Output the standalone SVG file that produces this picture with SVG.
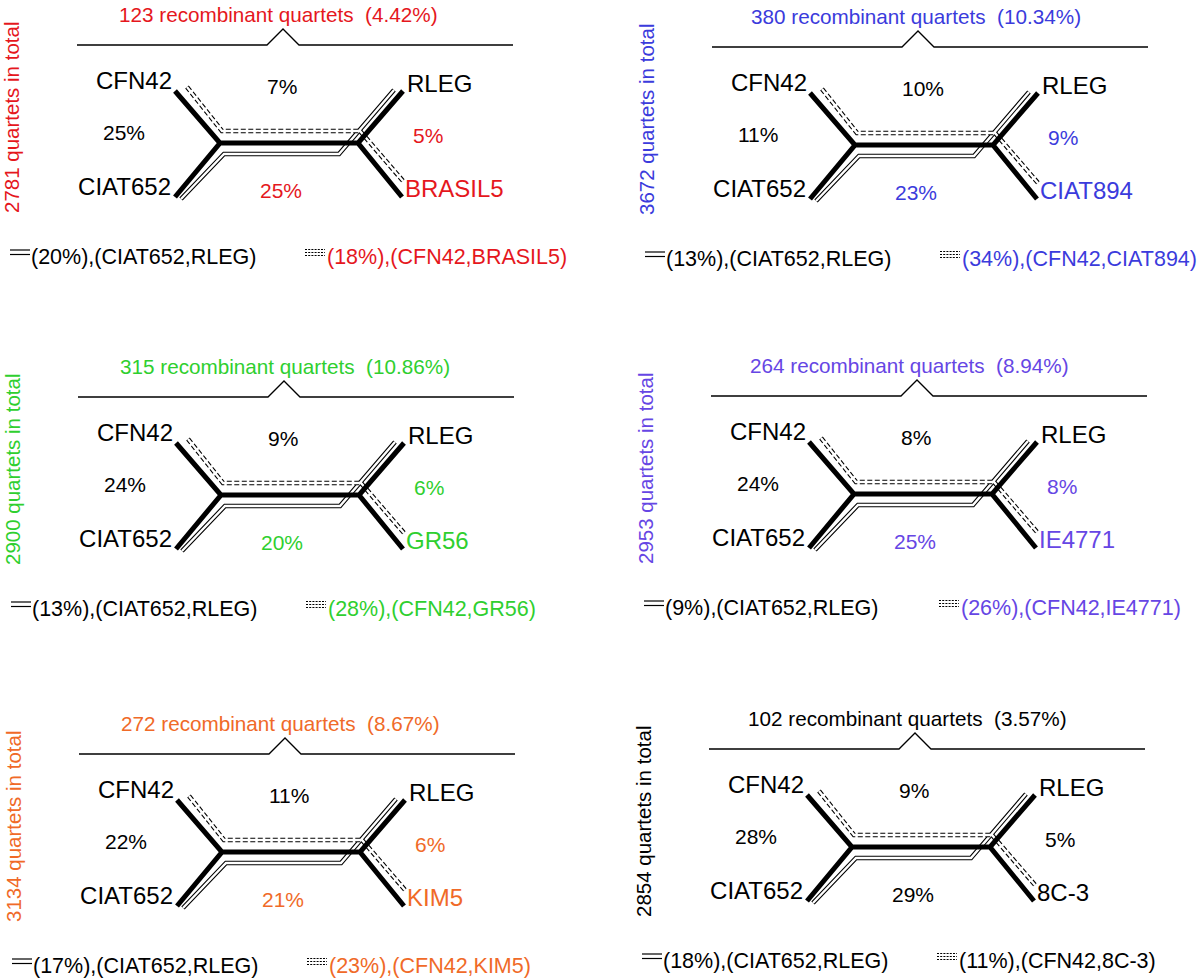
<svg xmlns="http://www.w3.org/2000/svg" xmlns:xlink="http://www.w3.org/1999/xlink" width="1200" height="979" viewBox="0 0 1200 979">
<style>
text{font-family:"Liberation Sans",Arial,sans-serif;fill:#000}
.tax{font-size:24px}
.pct{font-size:21px}
.ttl{font-size:20.7px;white-space:pre}
.vt{font-size:20.5px}
.lg{font-size:21.5px}
.thick{stroke:#000;stroke-width:5;fill:none}
.dbo{stroke:#000;stroke-width:4.6;fill:none}
.dbi{stroke:#fff;stroke-width:2.4;fill:none}
.dsh{stroke:#000;stroke-width:4.6;fill:none;stroke-dasharray:5 2.5}
.br{stroke:#000;stroke-width:1.3;fill:none}
.sym{stroke:#000;stroke-width:1.2;fill:none}
.symd{stroke:#000;stroke-width:1.1;fill:none;stroke-dasharray:2 1.2}
.red{fill:#e5171d}
.blue{fill:#3b3bdc}
.green{fill:#2fcf2f}
.purple{fill:#6646e4}
.orange{fill:#f06a28}
</style>
<defs>
<g id="tree">
<polyline class="br" points="77,45 267,45 283,29 299,45 513,45"/>
<path class="dbo" d="M181,199 L224,154 L339,154 L394,90"/>
<path class="dbi" d="M181,199 L224,154 L339,154 L394,90"/>
<path class="dsh" d="M187,87 L222,131 L360,131 L403,181"/>
<path class="dbi" d="M187,87 L222,131 L360,131 L403,181"/>
<path class="thick" d="M175,91 L220,143 L175,197 M220,143 L358,143 M403,91 L358,143 L402,197"/>
<line class="sym" x1="10" y1="250" x2="30" y2="250"/>
<line class="sym" x1="10" y1="254.5" x2="30" y2="254.5"/>
<line class="symd" x1="305" y1="249.5" x2="325" y2="249.5"/>
<line class="symd" x1="305" y1="252.5" x2="325" y2="252.5"/>
<line class="symd" x1="305" y1="255.5" x2="325" y2="255.5"/>
</g>
</defs>

<g id="panel1">
<use xlink:href="#tree"/>
<text class="ttl red" x="119" y="22" xml:space="preserve">123 recombinant quartets  (4.42%)</text>
<text class="vt red" transform="translate(19,213) rotate(-90)">2781 quartets in total</text>
<text class="tax" x="172" y="89" text-anchor="end">CFN42</text>
<text class="tax" x="171" y="195" text-anchor="end">CIAT652</text>
<text class="tax" x="407" y="92">RLEG</text>
<text class="tax red" x="405" y="197">BRASIL5</text>
<text class="pct" x="267" y="94">7%</text>
<text class="pct" x="103" y="140">25%</text>
<text class="pct red" x="413" y="143">5%</text>
<text class="pct red" x="260" y="198">25%</text>
<text class="lg" x="31" y="264">(20%),(CIAT652,RLEG)</text>
<text class="lg red" x="327" y="264">(18%),(CFN42,BRASIL5)</text>
</g>

<g id="panel2" transform="translate(635,2)">
<use xlink:href="#tree"/>
<text class="ttl blue" x="116" y="22" xml:space="preserve">380 recombinant quartets  (10.34%)</text>
<text class="vt blue" transform="translate(19,213) rotate(-90)">3672 quartets in total</text>
<text class="tax" x="172" y="89" text-anchor="end">CFN42</text>
<text class="tax" x="171" y="195" text-anchor="end">CIAT652</text>
<text class="tax" x="407" y="92">RLEG</text>
<text class="tax blue" x="405" y="197">CIAT894</text>
<text class="pct" x="267" y="94">10%</text>
<text class="pct" x="103" y="140">11%</text>
<text class="pct blue" x="413" y="143">9%</text>
<text class="pct blue" x="260" y="198">23%</text>
<text class="lg" x="31" y="264">(13%),(CIAT652,RLEG)</text>
<text class="lg blue" x="327" y="264">(34%),(CFN42,CIAT894)</text>
</g>

<g id="panel3" transform="translate(1,352)">
<use xlink:href="#tree"/>
<text class="ttl green" x="119" y="22" xml:space="preserve">315 recombinant quartets  (10.86%)</text>
<text class="vt green" transform="translate(19,213) rotate(-90)">2900 quartets in total</text>
<text class="tax" x="172" y="89" text-anchor="end">CFN42</text>
<text class="tax" x="171" y="195" text-anchor="end">CIAT652</text>
<text class="tax" x="407" y="92">RLEG</text>
<text class="tax green" x="405" y="197">GR56</text>
<text class="pct" x="267" y="94">9%</text>
<text class="pct" x="103" y="140">24%</text>
<text class="pct green" x="413" y="143">6%</text>
<text class="pct green" x="260" y="198">20%</text>
<text class="lg" x="31" y="264">(13%),(CIAT652,RLEG)</text>
<text class="lg green" x="327" y="264">(28%),(CFN42,GR56)</text>
</g>

<g id="panel4" transform="translate(634,351)">
<use xlink:href="#tree"/>
<text class="ttl purple" x="116" y="22" xml:space="preserve">264 recombinant quartets  (8.94%)</text>
<text class="vt purple" transform="translate(19,213) rotate(-90)">2953 quartets in total</text>
<text class="tax" x="172" y="89" text-anchor="end">CFN42</text>
<text class="tax" x="171" y="195" text-anchor="end">CIAT652</text>
<text class="tax" x="407" y="92">RLEG</text>
<text class="tax purple" x="405" y="197">IE4771</text>
<text class="pct" x="267" y="94">8%</text>
<text class="pct" x="103" y="140">24%</text>
<text class="pct purple" x="413" y="143">8%</text>
<text class="pct purple" x="260" y="198">25%</text>
<text class="lg" x="31" y="264">(9%),(CIAT652,RLEG)</text>
<text class="lg purple" x="327" y="264">(26%),(CFN42,IE4771)</text>
</g>

<g id="panel5" transform="translate(2,709)">
<use xlink:href="#tree"/>
<text class="ttl orange" x="119" y="22" xml:space="preserve">272 recombinant quartets  (8.67%)</text>
<text class="vt orange" transform="translate(19,213) rotate(-90)">3134 quartets in total</text>
<text class="tax" x="172" y="89" text-anchor="end">CFN42</text>
<text class="tax" x="171" y="195" text-anchor="end">CIAT652</text>
<text class="tax" x="407" y="92">RLEG</text>
<text class="tax orange" x="405" y="197">KIM5</text>
<text class="pct" x="267" y="94">11%</text>
<text class="pct" x="103" y="140">22%</text>
<text class="pct orange" x="413" y="143">6%</text>
<text class="pct orange" x="260" y="198">21%</text>
<text class="lg" x="31" y="264">(17%),(CIAT652,RLEG)</text>
<text class="lg orange" x="327" y="264">(23%),(CFN42,KIM5)</text>
</g>

<g id="panel6" transform="translate(632,704)">
<use xlink:href="#tree"/>
<text class="ttl" x="116" y="22" xml:space="preserve">102 recombinant quartets  (3.57%)</text>
<text class="vt" transform="translate(19,213) rotate(-90)">2854 quartets in total</text>
<text class="tax" x="172" y="89" text-anchor="end">CFN42</text>
<text class="tax" x="171" y="195" text-anchor="end">CIAT652</text>
<text class="tax" x="407" y="92">RLEG</text>
<text class="tax" x="405" y="197">8C-3</text>
<text class="pct" x="267" y="94">9%</text>
<text class="pct" x="103" y="140">28%</text>
<text class="pct" x="413" y="143">5%</text>
<text class="pct" x="260" y="198">29%</text>
<text class="lg" x="31" y="264">(18%),(CIAT652,RLEG)</text>
<text class="lg" x="327" y="264">(11%),(CFN42,8C-3)</text>
</g>
</svg>
